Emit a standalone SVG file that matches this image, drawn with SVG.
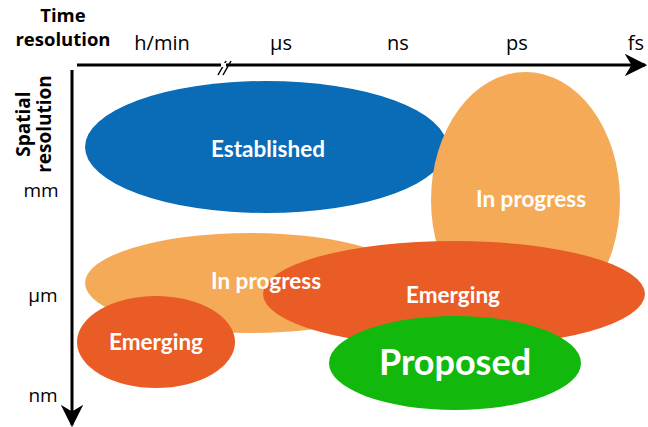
<svg xmlns="http://www.w3.org/2000/svg" width="648" height="427" viewBox="0 0 648 427">
<style>
.lbl{font-family:Lato,"Open Sans",sans-serif;font-weight:bold;fill:#fff;text-anchor:middle;dominant-baseline:central}
.ax{font-family:"Open Sans",sans-serif;fill:#000;text-anchor:middle}
.axb{font-family:"Open Sans",sans-serif;font-weight:bold;fill:#000;text-anchor:middle}
.line{stroke:#000;stroke-width:3;fill:none}
</style>
<defs>
<marker id="arr" viewBox="0 0 10 10" refX="9" refY="5" markerWidth="7.5" markerHeight="7.5" orient="auto" markerUnits="strokeWidth">
<path d="M0,0 L10,5 L0,10 L3,5 z" fill="#000"/>
</marker>
</defs>
<rect width="648" height="427" fill="#fff"/>
<g id="axes">
<line class="line" x1="77" y1="65" x2="645" y2="65" marker-end="url(#arr)"/>
<line class="line" x1="72" y1="70" x2="72" y2="425" marker-end="url(#arr)"/>
<line x1="218" y1="75" x2="226" y2="61" stroke="#000" stroke-width="1.5"/>
<line x1="223" y1="75" x2="231" y2="61" stroke="#000" stroke-width="1.5"/>
<rect x="221" y="63" width="5" height="4" fill="#fff"/>
</g>
<g id="axis-labels">
<text class="axb" x="63" y="22" font-size="18.5">Time</text>
<text class="axb" x="63" y="46" font-size="18.5">resolution</text>
<text class="ax" x="162" y="50" font-size="20">h/min</text>
<text class="ax" x="281" y="50" font-size="20">μs</text>
<text class="ax" x="398" y="50" font-size="20">ns</text>
<text class="ax" x="517" y="50" font-size="20">ps</text>
<text class="ax" x="636" y="50" font-size="20">fs</text>
<text class="axb" transform="translate(30,124) rotate(-90)" font-size="19">Spatial</text>
<text class="axb" transform="translate(51,124) rotate(-90)" font-size="19">resolution</text>
<text class="ax" x="41" y="197" font-size="19">mm</text>
<text class="ax" x="43" y="302" font-size="19">μm</text>
<text class="ax" x="43" y="402" font-size="19">nm</text>
</g>
<g id="established"><ellipse cx="266" cy="147" rx="181" ry="66" fill="#0a6cb6"/></g>
<g id="inprogress-right"><ellipse cx="525.5" cy="200" rx="94.5" ry="128" fill="#f5aa58"/></g>
<g id="inprogress-mid"><ellipse cx="250" cy="283" rx="165" ry="50" fill="#f5aa58"/></g>
<g id="emerging-big"><ellipse cx="454" cy="294" rx="191" ry="53" fill="#e95c26"/></g>
<g id="emerging-small"><ellipse cx="156" cy="342" rx="79" ry="46" fill="#e95c26"/></g>
<g id="proposed"><ellipse cx="455" cy="363" rx="126" ry="47" fill="#12b80c"/></g>
<g id="labels">
<text class="lbl" x="268" y="148" font-size="22.5">Established</text>
<text class="lbl" x="531" y="198" font-size="22.5">In progress</text>
<text class="lbl" x="266" y="280" font-size="22.5">In progress</text>
<text class="lbl" x="453" y="294" font-size="22.5">Emerging</text>
<text class="lbl" x="156" y="341" font-size="22.5">Emerging</text>
<text class="lbl" x="455" y="361" font-size="36">Proposed</text>
</g>
</svg>
